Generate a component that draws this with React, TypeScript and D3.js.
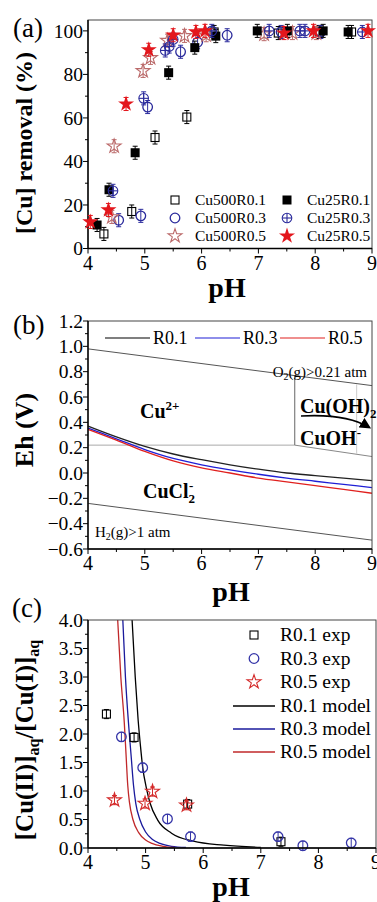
import React from 'react';
import * as d3 from 'd3';

const FONT = "'Liberation Serif', 'Times New Roman', serif";

// ---------- panel (a): Cu removal vs pH ----------
type Pt = [number, number];

const CU500_R01: Pt[] = [[4.28, 6.7], [4.77, 17], [5.18, 51], [5.74, 60.4], [6.22, 99.5], [7.35, 99], [8.07, 99.5], [8.64, 99.5]];
const CU25_R01: Pt[] = [[4.16, 10.8], [4.37, 27], [4.83, 44], [5.42, 80.8], [5.88, 92.3], [6.25, 97.6], [6.98, 100], [7.51, 100], [8.14, 100], [8.58, 99.5]];
const CU500_R03: Pt[] = [[4.54, 13], [4.93, 15], [5.05, 65], [5.63, 90.4], [5.93, 94.8], [6.45, 98], [7.4, 99.5], [8.1, 99.5]];
const CU25_R03: Pt[] = [[4.44, 26.5], [4.98, 69], [5.36, 91], [5.43, 92.8], [5.5, 96], [6.18, 100], [7.19, 100], [7.73, 100], [7.82, 100], [8.83, 99.5]];
const CU500_R05: Pt[] = [[4.42, 14.5], [4.46, 47], [4.97, 81.6], [5.1, 87.6], [5.4, 95.5], [5.7, 97.7], [6.08, 98], [7.1, 98.5], [7.6, 99], [8.02, 99]];
const CU25_R05: Pt[] = [[4.04, 12.2], [4.36, 17.7], [4.67, 66.4], [5.07, 91.3], [5.5, 98], [5.9, 99.5], [6.06, 100], [7.45, 99], [7.97, 100], [8.93, 100]];
const ERR_A = 3;

// ---------- panel (b): Eh-pH diagram ----------
const PH_B = [4, 4.5, 5, 5.5, 6, 6.5, 7, 7.5, 8, 8.5, 9];
const EH_R01 = [0.37, 0.285, 0.21, 0.15, 0.105, 0.065, 0.03, 0.0, -0.02, -0.04, -0.06];
const EH_R03 = [0.355, 0.27, 0.185, 0.115, 0.065, 0.025, -0.01, -0.04, -0.065, -0.09, -0.115];
const EH_R05 = [0.345, 0.26, 0.17, 0.095, 0.04, 0.0, -0.04, -0.07, -0.1, -0.13, -0.16];
const O2_LINE: Pt[] = [[4, 0.98], [9, 0.69]];
const H2_LINE: Pt[] = [[4, -0.24], [9, -0.53]];
const CU2_BOUND: Pt[] = [[4, 0.22], [7.64, 0.22]];
const OH2_BOUND: Pt[] = [[7.64, 0.22], [7.64, 0.77]];
const CUOH_BOUND: Pt[] = [[7.64, 0.22], [9, 0.13]];
const FAINT_BOUND: Pt[] = [[8.73, 0.15], [8.73, 0.7]];

// ---------- panel (c): Cu(II)/Cu(I) ratio ----------
const R01_EXP: Pt[] = [[4.32, 2.35], [4.8, 1.94], [5.73, 0.77], [7.35, 0.11]];
const R03_EXP: Pt[] = [[4.58, 1.95], [4.95, 1.41], [5.38, 0.51], [5.78, 0.2], [7.3, 0.2], [7.73, 0.04], [8.57, 0.09]];
const R05_EXP: Pt[] = [[4.46, 0.84], [4.99, 0.78], [5.12, 0.99], [5.71, 0.75]];
const R01_MODEL: Pt[] = [[4.76, 4.1], [4.82, 3.0], [4.87, 2.25], [4.91, 1.8], [4.95, 1.41], [5.01, 1.07], [5.08, 0.78], [5.21, 0.49], [5.45, 0.26], [5.83, 0.12], [6.36, 0.05], [7.0, 0.01]];
const R03_MODEL: Pt[] = [[4.6, 4.1], [4.65, 3.0], [4.71, 2.1], [4.75, 1.6], [4.79, 1.1], [4.83, 0.78], [4.9, 0.5], [5.0, 0.28], [5.12, 0.15], [5.25, 0.08], [5.45, 0.03], [5.7, 0.01]];
const R05_MODEL: Pt[] = [[4.51, 4.1], [4.57, 3.0], [4.63, 2.2], [4.66, 1.65], [4.69, 1.1], [4.72, 0.8], [4.78, 0.5], [4.88, 0.27], [5.0, 0.14], [5.11, 0.08], [5.3, 0.03], [5.5, 0.01]];
const ERR_C = 0.08;

const BLUE = '#2b2b9c';
const RED = '#e3161c';
const BROWN = '#bb6a6a';

const xA = d3.scaleLinear().domain([4, 9]).range([88, 372]);
const yA = d3.scaleLinear().domain([0, 105]).range([248.5, 20]);
const xB = d3.scaleLinear().domain([4, 9]).range([88, 372]);
const yB = d3.scaleLinear().domain([-0.6, 1.2]).range([549, 321]);
const xC = d3.scaleLinear().domain([4, 9]).range([88, 376]);
const yC = d3.scaleLinear().domain([0, 4]).range([848, 620]);

type Scale = d3.ScaleLinear<number, number>;

const Axes = ({ x, y, yStep, yMinorStep, fmt, tickSize = 19.5 }:
  { x: Scale; y: Scale; yStep: number; yMinorStep: number; fmt: (v: number) => string; tickSize?: number }) => {
  const [x0, x1] = x.range();
  const [yb, yt] = y.range();
  const [d0, d1] = y.domain();
  const yMaj = d3.range(d0, d1 + 1e-9, yStep);
  const yMin = d3.range(d0, d1 + 1e-9, yMinorStep).filter(v => !yMaj.some(m => Math.abs(m - v) < 1e-9));
  const xMaj = d3.range(4, 9.001, 1);
  const xMin = d3.range(4.5, 9, 1);
  return (
    <g fontFamily={FONT}>
      <rect x={x0} y={yt} width={x1 - x0} height={yb - yt} fill="none" stroke="#444" strokeWidth={1} />
      <line x1={x0} x2={x0} y1={yt} y2={yb} stroke="#000" strokeWidth={1.4} />
      <line x1={x0} x2={x1} y1={yb} y2={yb} stroke="#000" strokeWidth={1.4} />
      {xMaj.map(v => (
        <g key={'xm' + v}>
          <line x1={x(v)} x2={x(v)} y1={yb} y2={yb + 5} stroke="#000" />
          <text x={x(v)} y={yb + 21} fontSize={20} textAnchor="middle">{v}</text>
        </g>
      ))}
      {xMin.map(v => <line key={'xn' + v} x1={x(v)} x2={x(v)} y1={yb} y2={yb + 3} stroke="#000" />)}
      {yMaj.map(v => (
        <g key={'ym' + v}>
          <line x1={x0 - 5} x2={x0} y1={y(v)} y2={y(v)} stroke="#000" />
          <text x={x0 - 5} y={y(v)} dy="0.35em" fontSize={tickSize} textAnchor="end">{fmt(v)}</text>
        </g>
      ))}
      {yMin.map(v => <line key={'yn' + v} x1={x0 - 3} x2={x0} y1={y(v)} y2={y(v)} stroke="#000" />)}
    </g>
  );
};

const starPath = (size: number) => d3.symbol(d3.symbolStar, size)() || '';

type Kind = 'sq' | 'sqf' | 'ci' | 'cix' | 'st' | 'stf';

const Marker = ({ kind, cx, cy, color }: { kind: Kind; cx: number; cy: number; color: string }) => {
  switch (kind) {
    case 'sq':
      return <rect x={cx - 4} y={cy - 4} width={8} height={8} fill="none" stroke={color} strokeWidth={1.1} />;
    case 'sqf':
      return <rect x={cx - 4.5} y={cy - 4.5} width={9} height={9} fill={color} />;
    case 'ci':
      return <circle cx={cx} cy={cy} r={4.8} fill="none" stroke={color} strokeWidth={1.3} />;
    case 'cix':
      return (
        <g stroke={color} strokeWidth={1.1} fill="none">
          <circle cx={cx} cy={cy} r={4.8} />
          <line x1={cx - 4.8} x2={cx + 4.8} y1={cy} y2={cy} />
          <line x1={cx} x2={cx} y1={cy - 4.8} y2={cy + 4.8} />
        </g>
      );
    case 'st':
      return <path d={starPath(60)} transform={`translate(${cx},${cy})`} fill="none" stroke={color} strokeWidth={1.1} />;
    case 'stf':
      return <path d={starPath(80)} transform={`translate(${cx},${cy})`} fill={color} />;
  }
  return null;
};

const ErrorBar = ({ cx, y1, y2, color }: { cx: number; y1: number; y2: number; color: string }) => (
  <g stroke={color} strokeWidth={1}>
    <line x1={cx} x2={cx} y1={y1} y2={y2} />
    <line x1={cx - 2.5} x2={cx + 2.5} y1={y1} y2={y1} />
    <line x1={cx - 2.5} x2={cx + 2.5} y1={y2} y2={y2} />
  </g>
);

const SERIES_A: { name: string; data: Pt[]; kind: Kind; color: string }[] = [
  { name: 'Cu500R0.1', data: CU500_R01, kind: 'sq', color: '#000' },
  { name: 'Cu500R0.3', data: CU500_R03, kind: 'ci', color: BLUE },
  { name: 'Cu500R0.5', data: CU500_R05, kind: 'st', color: BROWN },
  { name: 'Cu25R0.1', data: CU25_R01, kind: 'sqf', color: '#000' },
  { name: 'Cu25R0.3', data: CU25_R03, kind: 'cix', color: BLUE },
  { name: 'Cu25R0.5', data: CU25_R05, kind: 'stf', color: RED },
];

const PanelA = () => (
  <g>
    <Axes x={xA} y={yA} yStep={20} yMinorStep={10} fmt={d3.format('d')} />
    {SERIES_A.map(s => (
      <g key={s.name}>
        {s.data.map(([p, v], i) => (
          <g key={i}>
            <ErrorBar cx={xA(p)} y1={yA(v + ERR_A)} y2={yA(v - ERR_A)} color={s.color} />
            <Marker kind={s.kind} cx={xA(p)} cy={yA(v)} color={s.color} />
          </g>
        ))}
      </g>
    ))}
    {SERIES_A.map((s, i) => {
      const col = Math.floor(i / 3), row = i % 3;
      const mx = col === 0 ? 175 : 287;
      const my = 200 + row * 18;
      return (
        <g key={'lg' + s.name}>
          <Marker kind={s.kind} cx={mx} cy={my} color={s.color} />
          <text x={mx + 20} y={my + 5} fontSize={15.5} fontFamily={FONT}>{s.name}</text>
        </g>
      );
    })}
    <text x={13} y={37} fontSize={27} fontFamily={FONT}>(a)</text>
    <text transform="translate(32,143) rotate(-90)" textAnchor="middle" fontSize={24} fontWeight="bold" fontFamily={FONT}>[Cu] removal (%)</text>
    <text x={227} y={297} textAnchor="middle" fontSize={28} fontWeight="bold" fontFamily={FONT}>pH</text>
  </g>
);

const lineB = d3.line<Pt>().x(d => xB(d[0])).y(d => yB(d[1]));
const curveB = d3.line<number>().x((_, i) => xB(PH_B[i])).y(d => yB(d)).curve(d3.curveMonotoneX);

const PanelB = () => (
  <g>
    <path d={lineB(O2_LINE) || ''} fill="none" stroke="#555" strokeWidth={1} />
    <path d={lineB(H2_LINE) || ''} fill="none" stroke="#555" strokeWidth={1} />
    <path d={lineB(CU2_BOUND) || ''} fill="none" stroke="#aaa" strokeWidth={1} />
    <path d={lineB(OH2_BOUND) || ''} fill="none" stroke="#666" strokeWidth={1} />
    <path d={lineB(CUOH_BOUND) || ''} fill="none" stroke="#888" strokeWidth={1} />
    <path d={lineB(FAINT_BOUND) || ''} fill="none" stroke="#ccc" strokeWidth={1} />
    <path d={curveB(EH_R01) || ''} fill="none" stroke="#222" strokeWidth={1.3} />
    <path d={curveB(EH_R03) || ''} fill="none" stroke="#1f1fd6" strokeWidth={1.3} />
    <path d={curveB(EH_R05) || ''} fill="none" stroke="#e0201e" strokeWidth={1.3} />
    <Axes x={xB} y={yB} yStep={0.2} yMinorStep={0.1} fmt={d3.format('.1f')} />
    {[['R0.1', '#000', 105], ['R0.3', '#1f1fd6', 195], ['R0.5', '#e0201e', 280]].map(([n, c, x]) => (
      <g key={n as string}>
        <line x1={x as number} x2={(x as number) + 45} y1={338} y2={338} stroke={c as string} strokeWidth={1.2} />
        <text x={(x as number) + 48} y={344} fontSize={18} fontFamily={FONT}>{n}</text>
      </g>
    ))}
    <g fontFamily={FONT} fontWeight="bold" fontSize={20}>
      <text x={140} y={418}>Cu<tspan dy={-8} fontSize={13}>2+</tspan></text>
      <text x={300} y={413}>Cu(OH)<tspan dy={5} fontSize={13}>2</tspan></text>
      <text x={300} y={445}>CuOH<tspan dy={-8} fontSize={13}>-</tspan></text>
      <text x={143} y={498}>CuCl<tspan dy={5} fontSize={13}>2</tspan><tspan dy={-13} dx={-6} fontSize={13}>-</tspan></text>
    </g>
    <text x={367} y={377} textAnchor="end" fontSize={15} fontFamily={FONT}>O<tspan dy={3} fontSize={10}>2</tspan><tspan dy={-3}>(g)&gt;0.21 atm</tspan></text>
    <text x={95} y={537} fontSize={15} fontFamily={FONT}>H<tspan dy={3} fontSize={10}>2</tspan><tspan dy={-3}>(g)&gt;1 atm</tspan></text>
    <defs>
      <marker id="arrowB" viewBox="0 0 10 10" refX={8} refY={5} markerWidth={7} markerHeight={7} orient="auto">
        <path d="M0,0 L10,5 L0,10 z" fill="#000" />
      </marker>
    </defs>
    <path d={`M${xB(7.75)},${yB(0.45)} Q${xB(8.55)},${yB(0.47)} ${xB(8.95)},${yB(0.36)}`} fill="none" stroke="#000" strokeWidth={1.6} markerEnd="url(#arrowB)" />
    <text x={13} y={334} fontSize={27} fontFamily={FONT}>(b)</text>
    <text transform="translate(33,430) rotate(-90)" textAnchor="middle" fontSize={26} fontWeight="bold" fontFamily={FONT}>Eh (V)</text>
    <text x={231} y={601} textAnchor="middle" fontSize={28} fontWeight="bold" fontFamily={FONT}>pH</text>
  </g>
);

const lineC = d3.line<Pt>().x(d => xC(d[0])).y(d => yC(d[1])).curve(d3.curveMonotoneX);

const EXP_C: { name: string; data: Pt[]; kind: Kind; color: string }[] = [
  { name: 'R0.1 exp', data: R01_EXP, kind: 'sq', color: '#000' },
  { name: 'R0.3 exp', data: R03_EXP, kind: 'ci', color: '#3535a8' },
  { name: 'R0.5 exp', data: R05_EXP, kind: 'st', color: '#d42a2a' },
];
const MODEL_C: { name: string; data: Pt[]; color: string }[] = [
  { name: 'R0.1 model', data: R01_MODEL, color: '#000' },
  { name: 'R0.3 model', data: R03_MODEL, color: '#1a1a9c' },
  { name: 'R0.5 model', data: R05_MODEL, color: '#c0282a' },
];

const PanelC = () => (
  <g>
    <defs>
      <clipPath id="clipC"><rect x={88} y={620} width={288} height={228} /></clipPath>
    </defs>
    <g clipPath="url(#clipC)">
      {MODEL_C.map(m => <path key={m.name} d={lineC(m.data) || ''} fill="none" stroke={m.color} strokeWidth={1.3} />)}
    </g>
    {EXP_C.map(s => (
      <g key={s.name}>
        {s.data.map(([p, v], i) => (
          <g key={i}>
            <ErrorBar cx={xC(p)} y1={yC(v + ERR_C)} y2={yC(v - ERR_C)} color={s.color} />
            <Marker kind={s.kind} cx={xC(p)} cy={yC(v)} color={s.color} />
          </g>
        ))}
      </g>
    ))}
    <Axes x={xC} y={yC} yStep={0.5} yMinorStep={0.25} fmt={d3.format('.1f')} />
    {EXP_C.map((s, i) => (
      <g key={'lg' + s.name}>
        <Marker kind={s.kind} cx={254} cy={635 + i * 23.5} color={s.color} />
        <text x={280} y={641 + i * 23.5} fontSize={19.5} fontFamily={FONT}>{s.name}</text>
      </g>
    ))}
    {MODEL_C.map((m, i) => (
      <g key={'lg' + m.name}>
        <line x1={233} x2={275} y1={706 + i * 23} y2={706 + i * 23} stroke={m.color} strokeWidth={1.3} />
        <text x={280} y={712 + i * 23} fontSize={19.5} fontFamily={FONT}>{m.name}</text>
      </g>
    ))}
    <text x={12} y={617} fontSize={27} fontFamily={FONT}>(c)</text>
    <text transform="translate(33,740) rotate(-90)" textAnchor="middle" fontSize={25} fontWeight="bold" fontFamily={FONT}>
      [Cu(II)]<tspan dy={6} fontSize={16}>aq</tspan><tspan dy={-6}>/[Cu(I)]</tspan><tspan dy={6} fontSize={16}>aq</tspan>
    </text>
    <text x={231} y={896} textAnchor="middle" fontSize={28} fontWeight="bold" fontFamily={FONT}>pH</text>
  </g>
);

export default function App() {
  return (
    <svg width={377} height={902} style={{ position: 'absolute', left: 0, top: 0, background: '#fff' }}>
      <rect width={377} height={902} fill="#fff" />
      <PanelA />
      <PanelB />
      <PanelC />
    </svg>
  );
}
